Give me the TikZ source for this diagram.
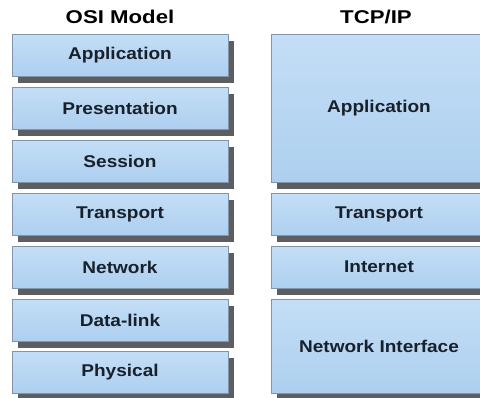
\documentclass[tikz,border=0pt]{standalone}
\usepackage{fontspec}
\usepackage{graphicx}
\setmainfont{Liberation Sans}
\usetikzlibrary{shadows}
\definecolor{boxtop}{HTML}{C4DEF6}
\definecolor{boxbot}{HTML}{ADCFEF}
\definecolor{boxline}{HTML}{8294A8}
\definecolor{shadowgray}{HTML}{5C5E62}
\definecolor{txt}{HTML}{18212B}
\newcommand{\lbl}[1]{\scalebox{1.12}[1]{#1}}
\newcommand{\ttl}[1]{\scalebox{1.2}[1]{#1}}
\tikzset{
  layer/.style={rectangle, draw=boxline, line width=0.7pt, top color=boxtop, bottom color=boxbot,
    minimum width=216pt, inner sep=0pt, outer sep=0pt, text=txt,
    font=\fontsize{17}{20}\selectfont\bfseries,
    drop shadow={shadow xshift=6pt, shadow yshift=-7pt, fill=shadowgray, opacity=1}},
  title/.style={text=black, font=\fontsize{18.5}{22}\selectfont\bfseries, inner sep=0pt}
}
\begin{document}
\begin{tikzpicture}[x=1pt,y=-1pt]
\useasboundingbox[fill=white] (0,0) rectangle (480,397);
\clip (0,0) rectangle (480,397);
% titles
\node[title] (osi) at (120,17) {\ttl{OSI Model}};
\node[title] (tcp) at (376,17) {\ttl{TCP/IP}};
% OSI layers
\node[layer, minimum height=42pt] (l7) at (120,55)  {\lbl{Application}};
\node[layer, minimum height=42pt] (l6) at (120,108) {\lbl{Presentation}};
\node[layer, minimum height=42pt] (l5) at (120,161) {\lbl{Session}};
\node[layer, minimum height=42pt] (l4) at (120,214) {\lbl{Transport}};
\node[layer, minimum height=42pt] (l3) at (120,267) {\lbl{Network}};
\node[layer, minimum height=42pt] (l2) at (120,320) {\lbl{Data-link}};
\node[layer, minimum height=42pt] (l1) at (120,372) {\lbl{Physical}};
% TCP/IP layers
\node[layer, minimum height=148pt] (t4) at (379,108) {\lbl{Application}};
\node[layer, minimum height=42pt]  (t3) at (379,214) {\lbl{Transport}};
\node[layer, minimum height=42pt]  (t2) at (379,267) {\lbl{Internet}};
\node[layer, minimum height=94pt]  (t1) at (379,346) {\lbl{Network Interface}};
\end{tikzpicture}
\end{document}
